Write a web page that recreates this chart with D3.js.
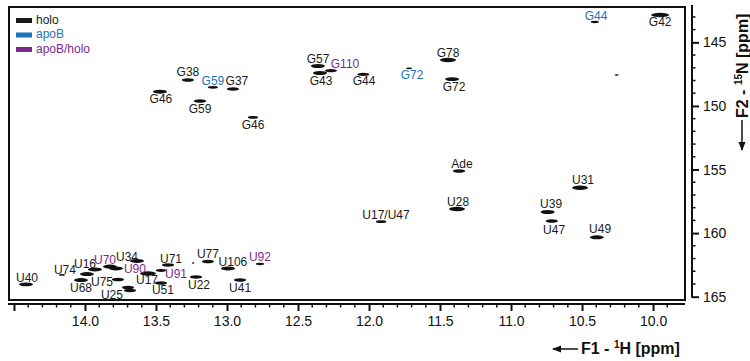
<!DOCTYPE html>
<html>
<head>
<meta charset="utf-8">
<script src="https://cdn.jsdelivr.net/npm/d3@7"></script>
<style>
  body { margin: 0; background: #fff; }
  svg text { font-family: "Liberation Sans", Arial, sans-serif; }
</style>
</head>
<body>
<div id="chart"></div>
<script>
// peak positions: 1H ppm, 15N ppm, relative intensity
var peakH = [9.95, 10.41, 10.256, 12.36, 12.345, 12.268, 12.04, 11.718, 11.444, 11.415,
    13.275, 13.099, 12.958, 13.472, 13.19, 12.817, 11.366, 11.38, 11.915, 12.768,
    10.514, 10.742, 10.713, 10.396, 14.415, 14.162, 13.986, 13.93, 14.028, 13.824,
    13.782, 13.634, 13.768, 13.697, 13.683, 13.556, 13.465, 13.415, 13.465, 13.218,
    13.239, 13.134, 12.993, 12.908];
var peakN = [142.85, 143.4, 147.57, 146.86, 147.41, 147.22, 147.52, 147.04, 146.39, 147.89,
    147.96, 148.54, 148.67, 148.88, 149.61, 150.9, 155.12, 158.1, 159.1, 162.43,
    156.43, 158.34, 159.05, 160.33, 164.03, 163.29, 163.22, 162.86, 163.69, 162.63,
    162.78, 162.19, 163.65, 164.28, 164.51, 163.18, 162.94, 162.51, 163.92, 163.45,
    162.35, 162.23, 162.78, 163.69];
var peakI = [9, 4, 2, 7, 7, 6, 6, 3, 8, 7,
    6, 5, 6, 7, 6, 5, 6, 8, 5, 4,
    8, 7, 6, 7, 7, 3, 7, 7, 7, 7,
    7, 7, 6, 6, 6, 8, 5, 6, 6, 6,
    1, 6, 7, 6];

// assignment labels
var labelText = ["G42", "G44", "G57", "G110", "G43", "G44", "G72", "G78", "G72",
    "G38", "G59", "G37", "G46", "G59", "G46", "Ade", "U28", "U17/U47", "U92",
    "U31", "U39", "U47", "U49", "U40", "U74", "U16", "U68", "U70", "U90", "U34",
    "U75", "U25", "U17", "U91", "U71", "U51", "U22", "U77", "U106", "U41"];
var labelGroup = ["holo", "apoB", "holo", "apoB/holo", "holo", "holo", "apoB", "holo", "holo",
    "holo", "apoB", "holo", "holo", "holo", "holo", "holo", "holo", "holo", "apoB/holo",
    "holo", "holo", "holo", "holo", "holo", "holo", "holo", "holo", "apoB/holo", "apoB/holo", "holo",
    "holo", "holo", "holo", "apoB/holo", "holo", "holo", "holo", "holo", "holo", "holo"];
var labelH = [9.95, 10.401, 12.359, 12.169, 12.338, 12.035, 11.697, 11.444, 11.401,
    13.275, 13.099, 12.93, 13.465, 13.19, 12.817, 11.345, 11.373, 11.88, 12.768,
    10.493, 10.718, 10.697, 10.373, 14.408, 14.141, 14.0, 14.028, 13.859, 13.648, 13.704,
    13.88, 13.81, 13.563, 13.359, 13.394, 13.451, 13.197, 13.134, 12.958, 12.908];
var labelN = [143.4, 142.93, 146.31, 146.71, 148.04, 148.04, 147.57, 145.82, 148.49,
    147.33, 148.04, 148.04, 149.46, 150.24, 151.5, 154.57, 157.53, 158.58, 161.88,
    155.83, 157.66, 159.7, 159.68, 163.53, 162.9, 162.37, 164.32, 162.11, 162.82, 161.88,
    163.8, 164.85, 163.69, 163.16, 162.04, 164.42, 164.08, 161.64, 162.25, 164.26];

var groups = ["holo", "apoB", "apoB/holo"];
var groupColors = ["#1a1a1a", "#1b75bb", "#7b2a8a"];

var xTickLabels = ["14.0", "13.5", "13.0", "12.5", "12.0", "11.5", "11.0", "10.5", "10.0"];
var yTickLabels = ["145", "150", "155", "160", "165"];

var width = 750, height = 361;
var box = { left: 9, top: 7, right: 685, bottom: 300 };

var svg = d3.select("#chart").append("svg")
    .attr("width", width)
    .attr("height", height);

var x = d3.scaleLinear().domain([14.535, 9.775]).range([box.left, box.right]);
var y = d3.scaleLinear().domain([142.22, 165.26]).range([box.top, box.bottom]);
var r = d3.scaleLinear().domain([1, 9]).range([1.2, 9]);
var color = d3.scaleOrdinal().domain(groups).range(groupColors);

// peaks
var peaks = peakH.map(function(h, i) { return { h: h, n: peakN[i], v: peakI[i] }; });
svg.append("g").selectAll("ellipse")
    .data(peaks)
    .enter().append("ellipse")
    .attr("cx", function(d) { return x(d.h); })
    .attr("cy", function(d) { return y(d.n); })
    .attr("rx", function(d) { return r(d.v); })
    .attr("ry", function(d) { return Math.max(0.8, Math.min(2.2, r(d.v) * 0.28)); })
    .attr("fill", "#111");

// labels
var labels = labelText.map(function(t, i) {
    return { t: t, g: labelGroup[i], h: labelH[i], n: labelN[i] };
});
svg.append("g").selectAll("text")
    .data(labels)
    .enter().append("text")
    .attr("x", function(d) { return x(d.h); })
    .attr("y", function(d) { return y(d.n); })
    .attr("dy", "0.36em")
    .attr("text-anchor", "middle")
    .style("font-size", "12px")
    .attr("fill", function(d) { return color(d.g); })
    .text(function(d) { return d.t; });

// frame
svg.append("rect")
    .attr("x", box.left).attr("y", box.top)
    .attr("width", box.right - box.left).attr("height", box.bottom - box.top)
    .attr("fill", "none").attr("stroke", "#111").attr("stroke-width", 2);

// legend
var legend = svg.append("g").selectAll("g")
    .data(groups)
    .enter().append("g")
    .attr("transform", function(d, i) { return "translate(16," + (18 + i * 14.5) + ")"; });
legend.append("rect")
    .attr("width", 16).attr("height", 5)
    .attr("fill", function(d) { return color(d); });
legend.append("text")
    .attr("x", 20).attr("y", 5.5)
    .style("font-size", "12px")
    .attr("fill", function(d) { return color(d); })
    .text(function(d) { return d; });

// bottom axis
var xMajor = xTickLabels.map(Number).concat([14.5]);
var xAxis = d3.axisBottom(x)
    .tickValues(xMajor)
    .tickSize(7)
    .tickPadding(5)
    .tickFormat(function(d) { return d === 14.5 ? "" : d3.format(".1f")(d); });
var gx = svg.append("g").attr("transform", "translate(0,304)").call(xAxis);
gx.select(".domain").remove();
gx.append("line").attr("x1", box.left - 1).attr("x2", box.right).attr("stroke", "#111").attr("stroke-width", 2);
gx.selectAll(".tick line").attr("stroke", "#111").attr("stroke-width", 2);
gx.selectAll(".tick text").attr("fill", "#111").style("font-size", "14px");
var xMinor = d3.range(145, 98, -1).map(function(v) { return v / 10; })
    .filter(function(v) { return xMajor.indexOf(v) < 0; });
gx.selectAll(".minor").data(xMinor).enter().append("line")
    .attr("x1", function(d) { return x(d); }).attr("x2", function(d) { return x(d); })
    .attr("y1", 0).attr("y2", 3.5)
    .attr("stroke", "#111").attr("stroke-width", 1.5);

// right axis
var yMajor = yTickLabels.map(Number);
var yAxis = d3.axisRight(y)
    .tickValues(yMajor)
    .tickSize(7)
    .tickPadding(4);
var gy = svg.append("g").attr("transform", "translate(692,0)").call(yAxis);
gy.select(".domain").remove();
gy.append("line").attr("y1", box.top - 2).attr("y2", y(165) + 1).attr("stroke", "#111").attr("stroke-width", 2);
gy.selectAll(".tick line").attr("stroke", "#111").attr("stroke-width", 2);
gy.selectAll(".tick text").attr("fill", "#111").style("font-size", "14px");
var yMinor = d3.range(143, 165).filter(function(v) { return yMajor.indexOf(v) < 0; });
gy.selectAll(".minor").data(yMinor).enter().append("line")
    .attr("y1", function(d) { return y(d); }).attr("y2", function(d) { return y(d); })
    .attr("x1", 0).attr("x2", 3.5)
    .attr("stroke", "#111").attr("stroke-width", 1.5);

// arrow head
svg.append("defs").append("marker")
    .attr("id", "arrow")
    .attr("viewBox", "0 0 10 10")
    .attr("refX", 9).attr("refY", 5)
    .attr("markerWidth", 6).attr("markerHeight", 6)
    .attr("orient", "auto")
    .append("path").attr("d", "M0,1 L10,5 L0,9 Z").attr("fill", "#111");

// axis titles
svg.append("line")
    .attr("x1", 578).attr("y1", 349).attr("x2", 553).attr("y2", 349)
    .attr("stroke", "#111").attr("stroke-width", 1.5)
    .attr("marker-end", "url(#arrow)");
var xt = svg.append("text")
    .attr("x", 581).attr("y", 354)
    .style("font-size", "16px").style("font-weight", "bold")
    .attr("fill", "#111");
xt.append("tspan").text("F1 - ");
xt.append("tspan").attr("dy", -6).style("font-size", "10px").text("1");
xt.append("tspan").attr("dy", 6).text("H [ppm]");

svg.append("line")
    .attr("x1", 742).attr("y1", 120).attr("x2", 742).attr("y2", 150)
    .attr("stroke", "#111").attr("stroke-width", 1.5)
    .attr("marker-end", "url(#arrow)");
var yt = svg.append("text")
    .attr("transform", "translate(748,118) rotate(-90)")
    .style("font-size", "16px").style("font-weight", "bold")
    .attr("fill", "#111");
yt.append("tspan").text("F2 - ");
yt.append("tspan").attr("dy", -6).style("font-size", "10px").text("15");
yt.append("tspan").attr("dy", 6).text("N [ppm]");
</script>
</body>
</html>
